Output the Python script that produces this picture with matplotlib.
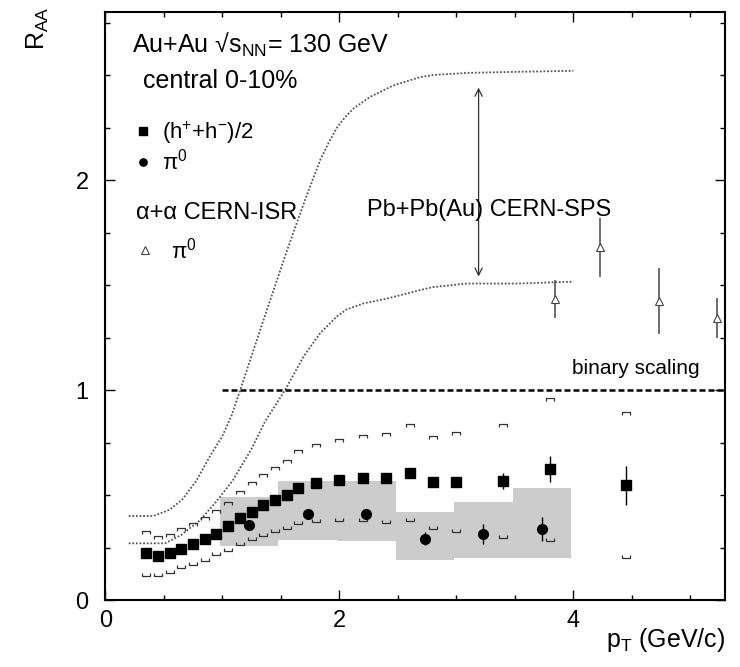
import matplotlib
matplotlib.use("Agg")
import matplotlib.pyplot as plt
from matplotlib.path import Path
from matplotlib.ticker import MultipleLocator

plt.rcParams['font.family'] = ['Liberation Sans', 'DejaVu Sans']
plt.rcParams['mathtext.fontset'] = 'custom'
plt.rcParams['mathtext.rm'] = 'Liberation Sans'
plt.rcParams['mathtext.it'] = 'Liberation Sans:italic'
plt.rcParams['mathtext.default'] = 'regular'

# (h+ + h-)/2, Au+Au central 0-10%
h_pt = [0.35, 0.45, 0.55, 0.65, 0.75, 0.85, 0.95, 1.05, 1.15, 1.25, 1.35, 1.45,
        1.55, 1.65, 1.8, 2.0, 2.2, 2.4, 2.6, 2.8, 3.0, 3.4, 3.8, 4.45]
h_raa = [0.222, 0.211, 0.222, 0.243, 0.265, 0.289, 0.316, 0.351, 0.389, 0.421,
         0.451, 0.478, 0.502, 0.535, 0.559, 0.571, 0.579, 0.580, 0.605, 0.560,
         0.563, 0.567, 0.622, 0.547]
h_err = [0, 0, 0, 0, 0, 0, 0, 0, 0, 0, 0, 0, 0, 0, 0, 0, 0, 0, 0, 0.02, 0.02,
         0.037, 0.062, 0.093]
h_sys_hi = [0.329, 0.307, 0.313, 0.342, 0.366, 0.393, 0.430, 0.466, 0.520, 0.563,
            0.600, 0.633, 0.667, 0.713, 0.745, 0.768, 0.787, 0.794, 0.840, 0.780,
            0.802, 0.839, 0.962, 0.894]
h_sys_lo = [0.116, 0.116, 0.130, 0.151, 0.169, 0.186, 0.213, 0.235, 0.263, 0.286,
            0.305, 0.323, 0.340, 0.363, 0.372, 0.376, 0.376, 0.369, 0.377, 0.337,
            0.323, 0.297, 0.283, 0.199]

# pi0
pi_pt = [1.23, 1.73, 2.23, 2.73, 3.23, 3.73]
pi_raa = [0.358, 0.412, 0.409, 0.291, 0.313, 0.339]
pi_err = [0, 0, 0, 0.031, 0.047, 0.056]
box_left = [0.98, 1.48, 1.98, 2.48, 2.98, 3.48]
box_lo = [0.258, 0.286, 0.281, 0.190, 0.199, 0.202]
box_hi = [0.490, 0.568, 0.568, 0.420, 0.469, 0.533]

# alpha+alpha CERN-ISR pi0
isr_pt = [3.84, 4.23, 4.73, 5.23]
isr_raa = [1.435, 1.68, 1.424, 1.345]
isr_err = [0.09, 0.14, 0.155, 0.095]

# Pb+Pb(Au) CERN-SPS band
sps_hi_pt = [0.2, 0.41, 0.55, 0.66, 0.78, 0.9, 1.0, 1.08, 1.15, 1.35, 1.55, 1.71,
             1.84, 1.92, 1.98, 2.05, 2.12, 2.26, 2.46, 2.69, 2.8, 3.09, 3.5, 4.0]
sps_hi = [0.40, 0.40, 0.43, 0.48, 0.57, 0.69, 0.78, 0.88, 0.995, 1.33, 1.66, 1.91,
          2.10, 2.19, 2.25, 2.30, 2.34, 2.395, 2.45, 2.49, 2.50, 2.51, 2.515, 2.52]
sps_lo_pt = [0.2, 0.51, 0.65, 0.81, 0.95, 1.09, 1.25, 1.365, 1.536, 1.695, 1.835,
             1.978, 2.063, 2.21, 2.405, 2.69, 2.8, 3.09, 3.52, 4.0]
sps_lo = [0.27, 0.27, 0.31, 0.38, 0.47, 0.57, 0.72, 0.85, 1.0, 1.16, 1.27, 1.35,
          1.384, 1.413, 1.435, 1.476, 1.49, 1.507, 1.507, 1.516]

fig = plt.figure(figsize=(7.4, 6.67), dpi=100)
ax = fig.add_axes([0.1423, 0.1004, 0.8381, 0.8816])

ax.bar(box_left, [t - b for t, b in zip(box_hi, box_lo)], bottom=box_lo, width=0.5,
       align='edge', color='#cccccc', linewidth=0, zorder=1)

ax.plot(sps_hi_pt, sps_hi, color='#555555', lw=1.3, ls=(0, (1, 1)), zorder=2)
ax.plot(sps_lo_pt, sps_lo, color='#555555', lw=1.3, ls=(0, (1, 1)), zorder=2)
ax.plot([1.0, 5.3], [1, 1], color='black', lw=1.8, ls=(0, (2.4, 1.2)), zorder=2)

# systematic-error brackets: cap on top opens downward, cap at bottom opens upward
up_br = Path([(-1, -0.7), (-1, 0), (1, 0), (1, -0.7)])
lo_br = Path([(-1, 0.7), (-1, 0), (1, 0), (1, 0.7)])
ax.plot(h_pt, h_sys_hi, ls='none', marker=up_br, ms=5.5, mfc='none', mec='#333333',
        mew=0.9, zorder=3)
ax.plot(h_pt, h_sys_lo, ls='none', marker=lo_br, ms=5.5, mfc='none', mec='#333333',
        mew=0.9, zorder=3)

h_pts = ax.errorbar(h_pt, h_raa, yerr=h_err, fmt='s', ms=7, color='black',
                    ecolor='black', elinewidth=1, capsize=0, zorder=4)
pi_pts = ax.errorbar(pi_pt, pi_raa, yerr=pi_err, fmt='o', ms=7, color='black',
                     ecolor='black', elinewidth=1, capsize=0, zorder=4)
isr_pts = ax.errorbar(isr_pt, isr_raa, yerr=isr_err, fmt='^', ms=6, mfc='white',
                      mec='#444444', mew=0.8, ecolor='#555555', elinewidth=1.2,
                      capsize=0, zorder=4)

ax.annotate('', xy=(3.19, 2.44), xytext=(3.19, 1.54),
            arrowprops=dict(arrowstyle='<->', lw=0.9, color='#333333',
                            shrinkA=0, shrinkB=0, mutation_scale=13))

ax.text(0.0426, 0.930, 'Au+Au √s$_{NN}$= 130 GeV', transform=ax.transAxes,
        fontsize=18, va='baseline', ha='left')
ax.text(0.0613, 0.870, 'central 0-10%', transform=ax.transAxes,
        fontsize=18, va='baseline', ha='left')
ax.text(3.28, 1.857, 'Pb+Pb(Au) CERN-SPS', fontsize=17, ha='center', va='center')
ax.text(3.99, 1.074, 'binary scaling', fontsize=15, ha='left', va='baseline')

leg1 = ax.legend([h_pts[0], pi_pts[0]], ['(h$^{+}$+h$^{-}$)/2', 'π$^{0}$'],
                 loc='upper left', bbox_to_anchor=(0.046, 0.818),
                 bbox_transform=ax.transAxes, frameon=False, fontsize=16,
                 handlelength=0.8, handletextpad=0.45, borderpad=0,
                 borderaxespad=0, labelspacing=0.15, markerscale=0.75)
ax.add_artist(leg1)
leg2 = ax.legend([isr_pts[0]], ['π$^{0}$'], title='α+α CERN-ISR',
                 loc='upper left', bbox_to_anchor=(0.049, 0.677),
                 bbox_transform=ax.transAxes, frameon=False, fontsize=16,
                 title_fontsize=17, alignment='left',
                 handlelength=0.8, handletextpad=0.8, borderpad=0,
                 borderaxespad=0, labelspacing=0.6)

ax.set_xlim(0, 5.3)
ax.set_ylim(0, 2.8)
ax.xaxis.set_major_locator(MultipleLocator(2))
ax.xaxis.set_minor_locator(MultipleLocator(0.5))
ax.yaxis.set_major_locator(MultipleLocator(1))
ax.yaxis.set_minor_locator(MultipleLocator(0.25))
ax.tick_params(which='both', direction='in', top=True, right=True, width=1,
               labelsize=17)
ax.tick_params(which='major', length=7)
ax.tick_params(which='minor', length=3.5)
ax.tick_params(axis='y', which='major', pad=12)
ax.tick_params(axis='x', which='major', pad=7)
for sp in ax.spines.values():
    sp.set_linewidth(1.5)

fig.text(0.051, 0.958, 'R$_{AA}$', rotation=90, fontsize=18, ha='center', va='center')
fig.text(0.98, 0.0305, 'p$_{T}$ (GeV/c)', fontsize=18, ha='right', va='baseline')

fig.savefig('out.png', dpi=100)
